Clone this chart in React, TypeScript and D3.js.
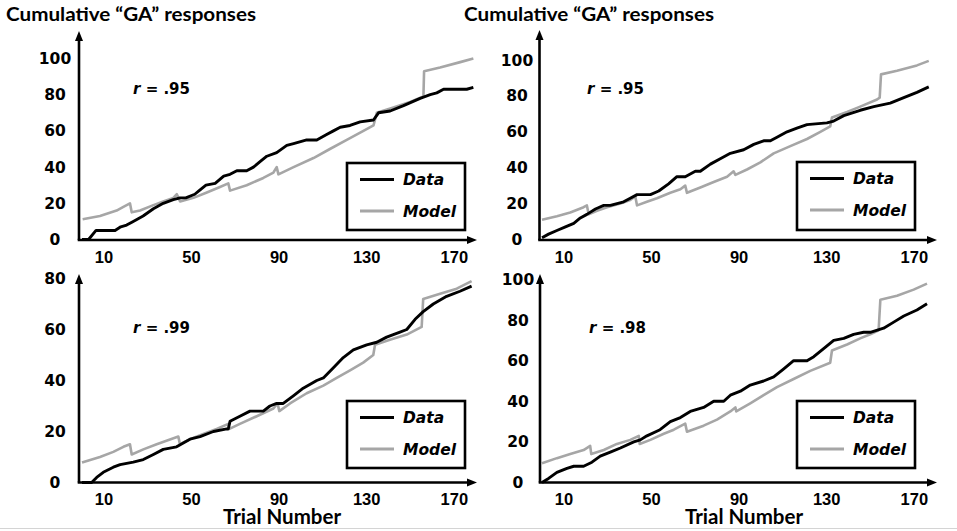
import React from 'react';
import * as d3 from 'd3';

type Pt = [number, number];

// ---- tick labels / text ----
const xTickValues = [10, 50, 90, 130, 170];
const yTicksTop = [0, 20, 40, 60, 80, 100];
const yTicksBL = [0, 20, 40, 60, 80];
const yTicksBR = [0, 20, 40, 60, 80, 100];
const seriesNames = ['Data', 'Model'];
const titleText = 'Cumulative \u201CGA\u201D responses';
const xTitle = 'Trial Number';

// ---- series: [trial, cumulative responses] ----
const tlData: Pt[] = [
  [0, 0], [3, 0], [6.4, 5], [15.1, 5], [17.7, 7], [20.4, 8], [23.4, 10], [27.9, 13], [32.6, 17], [37.1, 20],
  [41.7, 22], [44.8, 23], [47.4, 23], [51.5, 25], [53.5, 27], [56.6, 30], [60.8, 31], [64.7, 35], [67.6, 36],
  [70.7, 38], [75.2, 38], [78.3, 40], [81.3, 43], [84.4, 46], [88.9, 48], [93.5, 52], [96.6, 53], [102.6, 55],
  [107.2, 55], [111.7, 58], [114.8, 60], [117.9, 62], [122.4, 63], [127, 65], [133.1, 66], [135.4, 70],
  [140.7, 71], [146.8, 74], [154.4, 78], [159, 80], [162, 81], [165.1, 83], [175.7, 83], [178.7, 84],
];
const tlModel: Pt[] = [
  [0.3, 11.2], [8.2, 13], [15.8, 16], [18.9, 18], [21.9, 20], [22.7, 15], [26.5, 16], [32.6, 19], [37.1, 21],
  [41.7, 23], [43.3, 25], [44.8, 21], [50.9, 23], [57, 26], [63, 29], [66.8, 31], [67.6, 27], [75.2, 30],
  [82.8, 34], [87.4, 37], [88.9, 40], [89.7, 36], [96.6, 40], [105.7, 45], [113.2, 50], [120.9, 55],
  [128.5, 60], [133.1, 63], [134.6, 70], [142.2, 73], [149.8, 76], [155.9, 79], [156.2, 93], [163.5, 95],
  [172.7, 98], [178.7, 100],
];
const trData: Pt[] = [
  [0, 1], [3, 3], [6.8, 5], [10.7, 7], [14.5, 9], [17.5, 12], [20.5, 14], [24.4, 17], [28.2, 19], [31.2, 19],
  [37.3, 21], [40.3, 23], [43.4, 25], [49.5, 25], [53.3, 27], [57.8, 31], [61.6, 35], [65.4, 35], [70, 38],
  [72.3, 38], [76.9, 42], [81.4, 45], [86, 48], [92.1, 50], [96.7, 53], [101.2, 55], [104.3, 55], [107.3, 57],
  [111.9, 60], [116.4, 62], [121, 64], [130.1, 65], [133.2, 66], [137.8, 69], [145.3, 72], [151.5, 74],
  [159, 76], [165.2, 79], [171.2, 82], [176.6, 85],
];
const trModel: Pt[] = [
  [0, 11], [6.8, 13], [12.9, 15], [19, 18], [20.5, 19], [21.3, 14], [25.1, 16], [29.7, 18], [35.8, 20],
  [40.3, 22], [42.6, 24], [43.4, 19], [47.9, 21], [52.5, 23], [58.6, 26], [63.2, 28], [65.4, 30], [66.2, 26],
  [72.3, 29], [78.4, 32], [84.5, 35], [87.5, 38], [88.3, 36], [93.6, 39], [99.7, 43], [105.8, 48], [113.4, 52],
  [121, 56], [127.1, 60], [131.6, 63], [132.4, 68], [139.3, 71], [145.3, 74], [153, 78], [154.2, 79],
  [154.8, 92], [162.1, 94], [171.2, 97], [176.6, 99.5],
];
const blData: Pt[] = [
  [0, 0], [4.4, 0], [6.7, 2], [9.7, 4], [14.3, 6], [17.4, 7], [23.4, 8], [28, 9], [32.6, 11], [37.1, 13],
  [43.2, 14], [49.3, 17], [53.9, 18], [60, 20], [66.1, 21], [66.8, 21], [67.6, 24], [72.1, 26], [76.7, 28],
  [82.8, 28], [85.8, 30], [88.9, 31], [91.9, 31], [96.5, 34], [101, 37], [107.2, 40], [110.2, 41], [114.8, 45],
  [119.3, 49], [123.9, 52], [130, 54], [134.6, 55], [139.1, 57], [145.2, 59], [148.3, 60], [152.1, 64],
  [155.8, 67], [160.4, 70], [166.5, 73], [172.6, 75], [177.9, 77],
];
const blModel: Pt[] = [
  [0, 7.8], [8.2, 10], [14.3, 12], [18.9, 14], [21.9, 15], [22.7, 11], [28, 13], [34.1, 15], [44, 18],
  [44.7, 15], [49.3, 17], [55.4, 19], [61.5, 21], [66.8, 23], [67.3, 21], [72.1, 23], [79.8, 26], [87.4, 29],
  [89.3, 31], [90.1, 28], [95, 31], [102.6, 35], [110.2, 38], [116.3, 41], [122.4, 44], [128.4, 47], [133, 50],
  [133.8, 54], [140.6, 56], [148.3, 58], [155.1, 61], [155.8, 72], [163.5, 74], [171.1, 76], [177.9, 79],
];
const brData: Pt[] = [
  [0, 0], [3, 2], [6.8, 5], [11.4, 7], [14.5, 8], [19, 8], [22.8, 10], [26.6, 13], [31.2, 15], [35.8, 17],
  [41.9, 20], [44.9, 21], [47.9, 23], [53.9, 26], [58.6, 30], [63.2, 32], [67.7, 35], [73.8, 37], [78.4, 40],
  [83, 40], [86, 43], [90.6, 45], [95.1, 48], [101.2, 50], [105.8, 52], [110.4, 56], [114.9, 60], [121, 60],
  [124.1, 62], [128.6, 66], [133.2, 70], [137.8, 71], [142.3, 73], [146.9, 74], [149.9, 74], [156, 76],
  [160.6, 79], [165.2, 82], [171.2, 85], [175.8, 88],
];
const brModel: Pt[] = [
  [0, 9.5], [6.8, 12], [12.9, 14], [19, 16], [22, 18], [22.5, 14], [28.2, 16], [34.2, 19], [40.3, 21],
  [44.2, 23], [44.6, 19], [49.5, 21], [55.6, 24], [60.2, 26], [65.4, 29], [66.2, 25], [73.8, 28], [79.9, 31],
  [86, 35], [88.3, 37], [88.7, 35], [95.1, 39], [101.2, 43], [107.3, 47], [114.9, 51], [122.5, 55],
  [131.6, 59], [132.4, 65], [139.3, 68], [145.3, 71], [149.9, 73], [153.7, 75], [154.5, 90], [162.1, 92],
  [169.7, 95], [175.8, 98],
];
const rValues = ['.95', '.95', '.99', '.98'];

// ---- layout (positions only) ----
const W = 957;
const H = 531;
const BLACK = '#000';
const GRAY = '#a6a6a6';
const TICK_FONT = '"DejaVu Sans", "Liberation Sans", sans-serif';
const XTICK_FONT = '"Liberation Sans", Arial, sans-serif';
const TITLE_FONT = 'Lato, "Open Sans", sans-serif';

interface PanelCfg {
  data: Pt[];
  model: Pt[];
  r: string;
  yTicks: number[];
  yMax: number;
  xRange: [number, number];
  yRange: [number, number];
  axisX: number;
  axisY: number;
  arrowTop: number;
  arrowRight: number;
  labelCx: number;
  xLabelY: number;
  legend: { x: number; y: number; w: number; h: number };
  rPos: [number, number];
  title?: number;
  xTitle?: number;
}

const panels: PanelCfg[] = [
  {
    data: tlData, model: tlModel, r: rValues[0], yTicks: yTicksTop, yMax: 100,
    xRange: [82, 82 + 2.19 * 180], yRange: [239.5, 58.5], axisX: 79, axisY: 240,
    arrowTop: 31, arrowRight: 477, labelCx: 55, xLabelY: 262.5,
    legend: { x: 347, y: 163, w: 118, h: 67 }, rPos: [133, 94], title: 6,
  },
  {
    data: trData, model: trModel, r: rValues[1], yTicks: yTicksTop, yMax: 100,
    xRange: [542, 542 + 2.19 * 180], yRange: [239.5, 60], axisX: 539.5, axisY: 240,
    arrowTop: 30, arrowRight: 937, labelCx: 517, xLabelY: 262.5,
    legend: { x: 797, y: 162, w: 118, h: 68 }, rPos: [587, 94], title: 464,
  },
  {
    data: blData, model: blModel, r: rValues[2], yTicks: yTicksBL, yMax: 80,
    xRange: [82, 82 + 2.19 * 180], yRange: [482.5, 278.5], axisX: 79, axisY: 482.5,
    arrowTop: 274, arrowRight: 477, labelCx: 55, xLabelY: 504.5,
    legend: { x: 347, y: 401, w: 118, h: 67 }, rPos: [133, 333], xTitle: 282,
  },
  {
    data: brData, model: brModel, r: rValues[3], yTicks: yTicksBR, yMax: 100,
    xRange: [542, 542 + 2.19 * 180], yRange: [482.5, 279.5], axisX: 540, axisY: 482.5,
    arrowTop: 274, arrowRight: 937, labelCx: 518, xLabelY: 504.5,
    legend: { x: 797, y: 401, w: 118, h: 67 }, rPos: [589, 333], xTitle: 744,
  },
];

function Panel({ p }: { p: PanelCfg }) {
  const x = d3.scaleLinear().domain([0, 180]).range(p.xRange);
  const y = d3.scaleLinear().domain([0, p.yMax]).range(p.yRange);
  const line = d3.line<Pt>().x((d) => x(d[0])).y((d) => y(d[1]));
  const L = p.legend;
  return (
    <g>
      {p.title !== undefined && (
        <text x={p.title} y={21} fontFamily={TITLE_FONT} fontWeight={700} fontSize={18.5}
          textLength={250} lengthAdjust="spacingAndGlyphs" fill={BLACK}>{titleText}</text>
      )}
      {/* series */}
      <path d={line(p.model) || ''} fill="none" stroke={GRAY} strokeWidth={2.6} strokeLinejoin="round" />
      <path d={line(p.data) || ''} fill="none" stroke={BLACK} strokeWidth={2.9} strokeLinejoin="round" />
      {/* axes */}
      <line x1={p.axisX} y1={p.axisY} x2={p.axisX} y2={p.arrowTop + 8} stroke={BLACK} strokeWidth={2.6} />
      <path d={`M${p.axisX},${p.arrowTop} L${p.axisX - 4},${p.arrowTop + 10} L${p.axisX + 4},${p.arrowTop + 10} Z`} fill={BLACK} />
      <line x1={p.axisX - 1.3} y1={p.axisY} x2={p.arrowRight - 8} y2={p.axisY} stroke={BLACK} strokeWidth={2.6} />
      <path d={`M${p.arrowRight},${p.axisY} L${p.arrowRight - 10},${p.axisY - 4} L${p.arrowRight - 10},${p.axisY + 4} Z`} fill={BLACK} />
      {/* y tick labels */}
      {p.yTicks.map((t) => (
        <text key={t} x={p.labelCx} y={y(t)} dy="0.36em" textAnchor="middle" fontFamily={TICK_FONT}
          fontWeight={700} fontSize={15.5} fill={BLACK}>{t}</text>
      ))}
      {/* x tick labels */}
      {xTickValues.map((t) => (
        <text key={t} x={x(t)} y={p.xLabelY} textAnchor="middle" fontFamily={XTICK_FONT}
          fontWeight={700} fontSize={16.5} fill={BLACK}>{t}</text>
      ))}
      {p.xTitle !== undefined && (
        <text x={p.xTitle} y={523.5} textAnchor="middle" fontFamily={TITLE_FONT} fontWeight={700}
          fontSize={20.5} fill={BLACK}>{xTitle}</text>
      )}
      {/* r label */}
      <text x={p.rPos[0]} y={p.rPos[1]} fontFamily={TICK_FONT} fontWeight={700} fontSize={15} fill={BLACK}>
        <tspan fontStyle="italic">r</tspan>
        <tspan>{` = ${p.r}`}</tspan>
      </text>
      {/* legend */}
      <rect x={L.x} y={L.y} width={L.w} height={L.h} fill="#fff" stroke={BLACK} strokeWidth={2.6} />
      <line x1={L.x + 13} x2={L.x + 47} y1={L.y + 16.5} y2={L.y + 16.5} stroke={BLACK} strokeWidth={3} />
      <line x1={L.x + 13} x2={L.x + 47} y1={L.y + 48} y2={L.y + 48} stroke={GRAY} strokeWidth={3} />
      <text x={L.x + 56} y={L.y + 22} fontFamily={TICK_FONT} fontWeight={700} fontStyle="italic" fontSize={15.5} fill={BLACK}>{seriesNames[0]}</text>
      <text x={L.x + 56} y={L.y + 54} fontFamily={TICK_FONT} fontWeight={700} fontStyle="italic" fontSize={15.5} fill={BLACK}>{seriesNames[1]}</text>
    </g>
  );
}

export default function App() {
  return (
    <svg width={W} height={H} viewBox={`0 0 ${W} ${H}`}
      style={{ position: 'absolute', left: 0, top: 0, background: '#fff', display: 'block' }}>
      <rect x={0} y={0} width={W} height={H} fill="#fff" />
      {panels.map((p, i) => <Panel key={i} p={p} />)}
      <line x1={0} x2={W} y1={528.5} y2={528.5} stroke="#d4d4d4" strokeWidth={1.2} />
    </svg>
  );
}
